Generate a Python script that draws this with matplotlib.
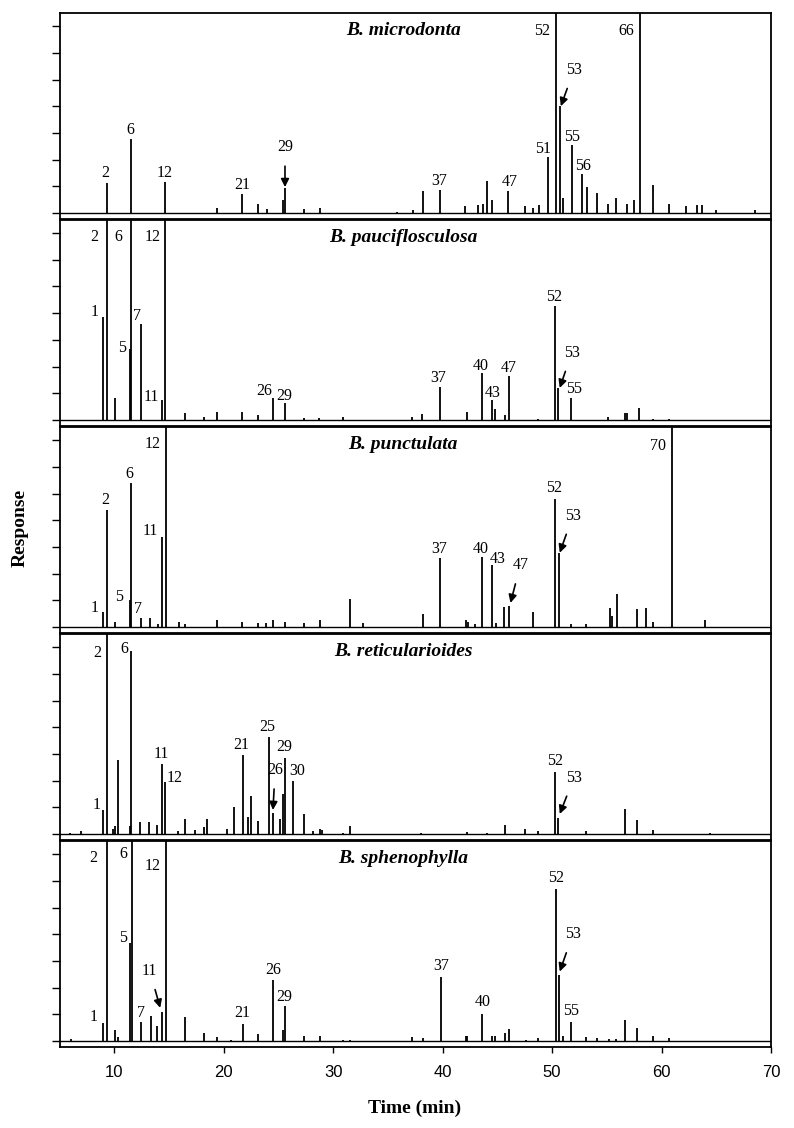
import numpy as np
import matplotlib
matplotlib.use('Agg')
import matplotlib.pyplot as plt

# retention times (min) and peak heights (tick units)
species = ['B. microdonta', 'B. pauciflosculosa', 'B. punctulata',
           'B. reticularioides', 'B. sphenophylla']

rt_micro = [9.3, 11.5, 14.6, 19.4, 21.7, 23.1, 24.0, 25.4, 25.6, 27.3, 28.8, 35.8,
            37.3, 38.2, 39.8, 42.0, 43.2, 43.7, 44.1, 44.5, 46.0, 47.5, 48.3, 48.8,
            49.6, 50.4, 50.75, 51.0, 51.8, 52.7, 53.2, 54.1, 55.1, 55.8, 56.8, 57.5,
            58.0, 59.2, 60.7, 62.2, 63.2, 63.7, 65.0, 68.5]
h_micro = [1.12, 2.77, 1.16, 0.19, 0.7, 0.35, 0.15, 0.5, 0.95, 0.15, 0.17, 0.05,
           0.1, 0.84, 0.86, 0.25, 0.3, 0.35, 1.2, 0.5, 0.82, 0.25, 0.2, 0.3,
           2.1, 9.0, 4.0, 0.55, 2.55, 1.46, 0.97, 0.75, 0.35, 0.55, 0.35, 0.5,
           9.0, 1.05, 0.35, 0.25, 0.3, 0.3, 0.1, 0.1]

rt_pauci = [8.95, 9.3, 10.1, 11.4, 11.5, 12.4, 14.4, 14.65, 16.5, 18.2, 19.4, 21.7,
            23.1, 24.5, 25.6, 27.3, 28.7, 30.9, 37.2, 38.1, 39.8, 42.2, 43.6, 44.5,
            44.8, 45.7, 46.1, 48.7, 50.3, 50.5, 51.7, 55.1, 56.7, 56.8, 57.9, 59.2,
            60.7]
h_pauci = [3.87, 9.0, 0.82, 2.66, 9.0, 3.6, 0.75, 9.0, 0.27, 0.1, 0.3, 0.3,
           0.2, 0.82, 0.65, 0.08, 0.08, 0.1, 0.1, 0.22, 1.24, 0.3, 1.75, 0.75,
           0.4, 0.2, 1.65, 0.05, 4.27, 1.2, 0.82, 0.1, 0.25, 0.25, 0.45, 0.05,
           0.05]

rt_punct = [8.95, 9.3, 10.1, 11.4, 11.55, 12.4, 13.3, 14.0, 14.4, 14.7, 15.9, 16.5,
            19.4, 21.7, 23.1, 23.9, 24.5, 25.6, 27.3, 28.8, 31.5, 32.7, 38.2, 39.8,
            42.1, 42.3, 43.0, 43.6, 44.5, 44.9, 45.6, 46.1, 48.3, 50.3, 50.6, 51.7,
            53.1, 55.3, 55.5, 55.9, 57.8, 58.6, 59.2, 61.0, 64.0]
h_punct = [0.56, 4.38, 0.2, 1.0, 5.39, 0.33, 0.33, 0.1, 3.37, 9.0, 0.2, 0.1,
           0.25, 0.2, 0.15, 0.15, 0.25, 0.2, 0.15, 0.25, 1.05, 0.15, 0.5, 2.57,
           0.25, 0.2, 0.1, 2.62, 2.32, 0.15, 0.75, 0.8, 0.55, 4.8, 2.77, 0.1,
           0.1, 0.7, 0.4, 1.24, 0.67, 0.72, 0.2, 9.0, 0.27]

rt_retic = [6.0, 7.0, 8.95, 9.3, 9.9, 10.1, 10.3, 11.4, 11.55, 12.35, 13.2, 13.9,
            14.4, 14.6, 15.8, 16.5, 17.4, 18.2, 18.5, 20.3, 20.9, 21.8, 22.2, 22.5,
            23.1, 24.1, 24.5, 25.1, 25.4, 25.6, 26.3, 27.3, 28.2, 28.8, 29.0, 30.9,
            31.5, 38.0, 42.2, 44.1, 45.7, 47.5, 48.7, 50.3, 50.5, 53.1, 56.7, 57.8,
            59.2, 64.4]
h_retic = [0.05, 0.1, 0.9, 9.0, 0.2, 0.3, 2.78, 0.3, 6.87, 0.45, 0.45, 0.35,
           2.62, 1.96, 0.1, 0.55, 0.15, 0.25, 0.55, 0.2, 1.02, 2.97, 0.65, 1.42,
           0.5, 3.64, 0.8, 0.55, 1.5, 2.85, 1.99, 0.76, 0.1, 0.2, 0.15, 0.05,
           0.3, 0.05, 0.08, 0.05, 0.35, 0.2, 0.1, 2.33, 0.6, 0.1, 0.94, 0.53,
           0.15, 0.05]

rt_spheno = [6.05, 8.95, 9.3, 10.1, 10.3, 11.4, 11.6, 12.4, 13.35, 13.9, 14.4, 14.7,
             16.5, 18.2, 19.4, 20.7, 21.8, 23.1, 24.5, 25.4, 25.6, 27.3, 28.8, 30.9,
             31.5, 37.2, 38.2, 39.85, 42.1, 42.2, 43.6, 44.5, 44.8, 45.7, 46.1, 47.6,
             48.7, 50.35, 50.6, 51.0, 51.7, 53.1, 54.1, 55.2, 55.8, 56.7, 57.8, 59.2,
             60.7]
h_spheno = [0.07, 0.66, 9.0, 0.4, 0.15, 3.66, 9.0, 0.7, 0.95, 0.55, 1.1, 9.0,
            0.9, 0.3, 0.15, 0.05, 0.62, 0.25, 2.3, 0.4, 1.3, 0.2, 0.2, 0.05,
            0.05, 0.15, 0.12, 2.4, 0.18, 0.18, 1.0, 0.2, 0.2, 0.3, 0.45, 0.05,
            0.1, 5.7, 2.46, 0.2, 0.72, 0.15, 0.1, 0.08, 0.08, 0.8, 0.5, 0.2,
            0.1]

peak_rt = [rt_micro, rt_pauci, rt_punct, rt_retic, rt_spheno]
peak_h = [h_micro, h_pauci, h_punct, h_retic, h_spheno]

# compound labels: (text, label x, label y) and arrows: (text, label x, label y, tip x, tip y)
labels = [
    [('2', 9.2, 1.5), ('6', 11.5, 3.1), ('12', 14.6, 1.5), ('21', 21.7, 1.05),
     ('37', 39.7, 1.2), ('47', 46.1, 1.17), ('51', 49.2, 2.4), ('52', 49.1, 6.8),
     ('66', 56.8, 6.8), ('55', 51.85, 2.85), ('56', 52.8, 1.76)],
    [('2', 8.2, 6.87), ('6', 10.4, 6.87), ('12', 13.5, 6.87), ('1', 8.2, 4.06),
     ('5', 10.7, 2.7), ('7', 12.05, 3.9), ('11', 13.4, 0.87), ('26', 23.7, 1.09),
     ('29', 25.5, 0.9), ('37', 39.6, 1.57), ('40', 43.5, 2.03), ('43', 44.6, 1.0),
     ('47', 46.0, 1.95), ('52', 50.2, 4.6), ('55', 52.0, 1.16)],
    [('1', 8.2, 0.71), ('2', 9.2, 4.76), ('5', 10.45, 1.13), ('6', 11.4, 5.73),
     ('7', 12.15, 0.67), ('11', 13.3, 3.6), ('12', 13.5, 6.85), ('37', 39.65, 2.92),
     ('40', 43.5, 2.92), ('43', 45.0, 2.55), ('52', 50.2, 5.2), ('70', 59.65, 6.78)],
    [('1', 8.4, 1.09), ('2', 8.45, 6.78), ('6', 10.9, 6.93), ('11', 14.3, 3.0),
     ('12', 15.55, 2.11), ('21', 21.6, 3.33), ('25', 24.0, 4.0), ('29', 25.5, 3.26),
     ('30', 26.75, 2.36), ('52', 50.25, 2.73)],
    [('1', 8.1, 0.91), ('2', 8.1, 6.85), ('6', 10.8, 7.0), ('12', 13.55, 6.57),
     ('5', 10.8, 3.86), ('7', 12.45, 1.05), ('21', 21.7, 1.05), ('26', 24.5, 2.66),
     ('29', 25.5, 1.65), ('37', 39.85, 2.82), ('40', 43.65, 1.46), ('52', 50.35, 6.1),
     ('55', 51.7, 1.13)],
]
arrows = [
    [('29', 25.6, 2.47, 25.6, 0.97), ('53', 52.0, 5.36, 50.8, 4.0)],
    [('53', 51.8, 2.52, 50.7, 1.2)],
    [('47', 47.1, 2.32, 46.2, 0.9), ('53', 51.9, 4.17, 50.7, 2.78)],
    [('26', 24.7, 2.4, 24.5, 0.9), ('53', 52.0, 2.11, 50.7, 0.75)],
    [('11', 13.25, 2.63, 14.2, 1.24), ('53', 51.9, 4.0, 50.7, 2.6)],
]

serif = 'Liberation Serif'
W, H = 794, 1128
fig = plt.figure(figsize=(W / 100, H / 100), dpi=100)

left, right = 59.5, 771
ph = 206
for i in range(5):
    top = 13 + i * 207
    ax = fig.add_axes([left / W, 1 - (top + ph) / H, (right - left) / W, ph / H])
    ax.vlines(peak_rt[i], 0, peak_h[i], color='black', lw=1.3)
    ax.axhline(0, color='black', lw=1.0)
    ax.set_xlim(5, 70)
    ax.set_ylim(-6 / 26.7, (ph - 6) / 26.7)
    ax.set_yticks(range(8))
    ax.set_yticklabels([])
    ax.tick_params(axis='y', direction='out', length=6, width=1)
    ax.set_xticks(range(10, 71, 10))
    if i < 4:
        ax.tick_params(axis='x', length=0, labelbottom=False)
    else:
        ax.tick_params(axis='x', direction='out', length=4, width=1, pad=9)
        for t in ax.get_xticklabels():
            t.set_fontfamily('Liberation Sans')
            t.set_fontsize(12)
    for s in ax.spines.values():
        s.set_linewidth(1.3)
    ax.text(0.483, 0.915, species[i], transform=ax.transAxes, ha='center', va='center',
            family=serif, fontsize=14, fontweight='bold', fontstyle='italic')
    for txt, x, y in labels[i]:
        ax.text(x, y, txt, ha='center', va='center', family=serif, fontsize=11.5)
    for txt, x, y, tx, ty in arrows[i]:
        ax.annotate(txt, xy=(tx, ty), xytext=(x, y), ha='center', va='center',
                    family=serif, fontsize=11.5,
                    arrowprops=dict(arrowstyle='-|>', color='black', lw=1.2,
                                    shrinkA=6, shrinkB=0, mutation_scale=12))

fig.text(20 / W, 1 - 528 / H, 'Response', rotation=90, ha='center', va='center',
         family=serif, fontsize=14, fontweight='bold')
fig.text(415 / W, 1 - 1108 / H, 'Time (min)', ha='center', va='center',
         family=serif, fontsize=14, fontweight='bold')

fig.savefig('out.png', dpi=100)
